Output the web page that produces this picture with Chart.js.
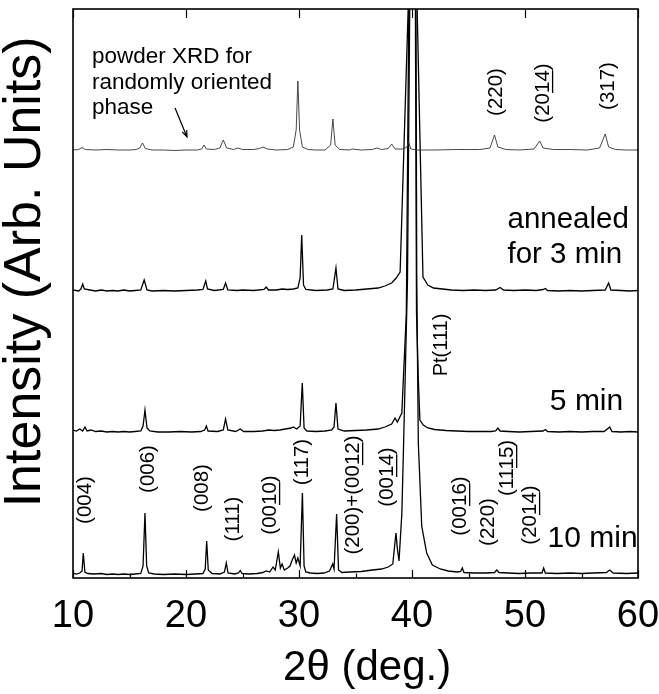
<!DOCTYPE html>
<html>
<head>
<meta charset="utf-8">
<script src="https://cdn.jsdelivr.net/npm/chart.js@4/dist/chart.umd.min.js"></script>
<style>
  body { margin: 0; background: #fff; }
  canvas { display: block; }
</style>
</head>
<body>
<canvas id="xrdChart" width="659" height="694"></canvas>
<script>
// 2theta (deg.) tick labels
var xTicks = [10, 20, 30, 40, 50, 60];

// each trace: [2theta, intensity] (intensity incl. vertical offset)
var powderXRD = [
  [10,428],[10.5,428.5],[10.8,430.5],[11.1,428.5],[12,428],[13,428.5],[14,428],[15,428],[15.6,428.5],[15.9,430],[16.15,435],[16.4,429.5],
  [17,428],[18,428],[19,427.5],[20,428],[21,428],[21.4,429],[21.6,433],[21.8,429],[22.5,428.5],[23.0,430],[23.3,438],[23.6,430],
  [24.2,428.5],[24.6,430],[25,428.5],[26,428.5],[26.5,429.5],[26.8,431],[27.2,429],[28,428],[29,428.5],[29.5,431],[29.75,448],
  [29.9,497],[30.05,448],[30.3,431],[30.8,428.5],[31.5,428],[32.3,428],[32.8,433],[33.0,459],[33.2,433],[33.6,428.5],[34.5,428],
  [34.7,429],[35.5,428],[36.5,428.5],[36.9,430],[37.3,428.5],[37.9,429.5],[38.2,434],[38.5,429],[39.2,429],[39.55,431],[39.7,436],
  [39.9,429],[40.5,428],[42,428],[44,428.5],[46,428.5],[46.9,430],[47.3,443],[47.6,431],[48.3,428.5],[49.5,428],[50.8,429],
  [51.3,437],[51.6,430],[52.5,428.5],[54,428.5],[55.5,428],[56.6,430],[57.1,444],[57.4,431],[58,428.5],[59,428],[60,428]
];

var annealed3min = [
  [10,288],[10.5,287],[10.7,289],[10.86,294],[11.0,289],[11.5,288],[12,287],[12.5,288],[13,287],[13.5,287.5],[14,287],[14.5,288],
  [15,287],[15.5,287.5],[16.0,288],[16.3,298],[16.55,288],[17,287],[18,287.5],[19,287],[20,287.5],[21,288],[21.5,288.5],[21.75,297],
  [21.9,289],[22.5,287.5],[23.3,288.5],[23.5,295],[23.7,288],[24.5,287.5],[25,288],[26,287.5],[26.9,288.5],[27.1,291],[27.3,288],
  [28,288],[28.5,289],[29,288.5],[29.5,289],[29.9,290],[30.1,300],[30.24,343],[30.4,293],[30.6,288.5],[31.5,287.5],[32.5,288],
  [33.0,289],[33.27,310],[33.45,289],[34,287.5],[35,288],[36,289],[37,290],[37.6,292],[38.2,295],[38.6,300],[38.95,306],
  [39.67,572],[40.05,700],[40.45,572],[40.97,301],[41.4,293],[41.9,290],[42.7,289],[43.5,288],[44.5,287.5],[45.5,288],
  [46.5,287.5],[47.4,288],[47.8,290.5],[48.1,288],[49,287.5],[50,288],[51,287.5],[51.6,288.5],[51.8,289.5],[52,287.5],[53,287],
  [54,287.5],[55,287],[56,287.5],[57.1,288],[57.4,295],[57.6,288],[58.5,287.5],[59.3,287],[60,287.5]
];

var annealed5min = [
  [10,148],[10.3,147],[10.6,149],[10.85,147],[11.06,151],[11.25,147],[11.6,148],[12,146.5],[12.5,147],[13,146],[13.5,146.5],[14,146],
  [14.5,146.5],[15,146],[15.5,146.5],[16.0,147],[16.2,152],[16.37,168],[16.55,150],[16.8,147],[17.5,146],[18.5,146],[19.5,146.5],
  [20.5,146],[21.3,146.5],[21.65,148],[21.8,152],[21.95,147],[22.8,146.5],[23.3,148],[23.5,159],[23.7,148],[24.4,146.5],[24.8,149],
  [25.1,146.5],[26,146.5],[26.8,147],[27.3,148],[27.8,147.5],[28.3,148],[28.8,149],[29.3,150],[29.5,151],[29.8,149],[30.1,152],
  [30.29,195],[30.45,150],[30.7,147],[31.5,146.5],[32.3,147],[32.9,148],[33.1,151],[33.27,175],[33.45,149],[34,147],[35,147.5],
  [36,148],[37,149],[37.6,151],[38.2,154],[38.5,160],[38.7,156],[39.1,165],[39.5,265],[39.72,572],[40.05,700],[40.3,572],
  [40.4,265],[40.56,198],[40.7,158],[41.0,153],[41.4,150],[42,148.5],[43,147.5],[44,147],[45,146.5],[46,146.5],[47,146.5],
  [47.4,147],[47.6,150],[47.8,147],[48.5,146.5],[49.5,146],[50.5,146.5],[51.6,147],[51.8,148.5],[52.0,146.5],[53,146],[54,146.5],
  [55,146],[56,146.5],[57,146.5],[57.5,151],[57.7,146.5],[58.5,146],[59.3,146.5],[60,146]
];

var annealed10min = [
  [10,5],[10.3,4],[10.6,5],[10.8,7],[10.91,25],[11.05,6],[11.3,4.5],[11.8,4],[12.5,4.5],[13,3.5],[13.5,4],[14,3.5],[14.5,4],[15,3.5],
  [15.5,4],[16.0,4.5],[16.2,12],[16.37,65],[16.52,12],[16.7,5],[17.2,4],[18,3.5],[19,4],[20,3.5],[20.8,4],[21.5,4.5],[21.7,9],
  [21.83,37],[21.97,8],[22.3,4.5],[23.0,4],[23.4,6],[23.57,15],[23.72,5],[24.3,4],[24.65,5],[24.8,7.5],[24.95,4.5],[25.5,4],
  [26.3,4.5],[26.8,5.5],[27.1,7],[27.4,6],[27.7,11],[27.9,8],[28.17,26],[28.35,10],[28.5,14],[28.7,8],[29.0,10],[29.2,12],[29.4,18],
  [29.6,23],[29.75,15],[29.9,20],[30.1,12],[30.3,85],[30.45,12],[30.6,6],[31,5],[31.6,4.5],[32.2,5],[32.7,7],[32.98,14],[33.1,9],
  [33.33,64],[33.5,8],[33.8,5.5],[34.5,6],[35.5,6.5],[36.5,8],[37.3,9],[37.9,11],[38.3,14],[38.58,45],[38.7,30],[38.85,17],
  [39.1,64],[39.25,131],[39.6,298],[39.8,572],[40.05,700],[40.35,572],[40.42,298],[40.56,135],[40.86,52],[41.3,25],[41.8,13],
  [42.5,9],[43.2,7],[44,6],[44.3,6.5],[44.45,10],[44.6,5.5],[45.5,5],[46.5,5],[47.3,5.5],[47.5,8],[47.7,5.5],[48.5,5],[49.5,4.5],
  [50.5,5],[51.5,5],[51.65,10],[51.8,5],[52.8,4.5],[54,5],[55,4.5],[56,5],[57.2,5.5],[57.5,8],[57.8,5],[59,4.5],[60,5]
];

var seriesNames = ['powder XRD', '3 min', '5 min', '10 min'];

// text placed in data coordinates (2theta, intensity); ul = underlined character range
var notes = [
  { t: 'powder XRD for', x: 11.68, y: 515, size: 22.5, align: 'left', base: 'alphabetic' },
  { t: 'randomly oriented', x: 11.68, y: 489.5, size: 22.5, align: 'left', base: 'alphabetic' },
  { t: 'phase', x: 11.68, y: 464, size: 22.5, align: 'left', base: 'alphabetic' },
  { t: 'annealed', x: 48.45, y: 350, size: 29.5, align: 'left', base: 'alphabetic' },
  { t: 'for 3 min', x: 48.45, y: 315, size: 29.5, align: 'left', base: 'alphabetic' },
  { t: '5 min', x: 52.2, y: 168, size: 30, align: 'left', base: 'alphabetic' },
  { t: '10 min', x: 52.0, y: 31, size: 30, align: 'left', base: 'alphabetic' },
  { t: '(220)', x: 47.43, y: 486, size: 20.5, rot: true },
  { t: '(2014)', x: 51.59, y: 485, size: 20.5, rot: true, ul: [3, 5] },
  { t: '(317)', x: 57.35, y: 492, size: 20.5, rot: true },
  { t: 'Pt(111)', x: 42.65, y: 233, size: 20, rot: true },
  { t: '(004)', x: 11.06, y: 78, size: 20.5, rot: true },
  { t: '(006)', x: 16.64, y: 109, size: 20.5, rot: true },
  { t: '(008)', x: 21.42, y: 90, size: 20.5, rot: true },
  { t: '(111)', x: 24.16, y: 59, size: 20.5, rot: true },
  { t: '(0010)', x: 27.43, y: 73, size: 20.5, rot: true, ul: [3, 5] },
  { t: '(117)', x: 30.27, y: 116, size: 20.5, rot: true },
  { t: '(200)+(0012)', x: 34.78, y: 83, size: 20.5, rot: true, ul: [9, 11] },
  { t: '(0014)', x: 37.79, y: 101, size: 20.5, rot: true, ul: [3, 5] },
  { t: '(0016)', x: 44.25, y: 72, size: 20.5, rot: true, ul: [3, 5] },
  { t: '(220)', x: 46.73, y: 56, size: 20.5, rot: true },
  { t: '(1115)', x: 48.41, y: 110, size: 20.5, rot: true, ul: [3, 5] },
  { t: '(2014)', x: 50.44, y: 63, size: 20.5, rot: true, ul: [3, 5] }
];

var fontFamily = "'Liberation Sans', Arial, sans-serif";

var decorPlugin = {
  id: 'decor',
  afterDraw: function (chart) {
    var ctx = chart.ctx;
    var a = chart.chartArea;
    var xs = chart.scales.x;
    var ys = chart.scales.y;
    ctx.save();
    ctx.strokeStyle = '#000';
    ctx.lineWidth = 1.6;
    ctx.strokeRect(a.left, a.top, a.right - a.left, a.bottom - a.top);

    // inward ticks: major+minor at bottom, major at top
    ctx.lineWidth = 1.2;
    ctx.beginPath();
    for (var v = 10; v <= 60; v += 5) {
      var px = Math.round(xs.getPixelForValue(v)) + 0.5;
      var major = v % 10 === 0;
      ctx.moveTo(px, a.bottom);
      ctx.lineTo(px, a.bottom - (major ? 8 : 4.5));
      if (major) {
        ctx.moveTo(px, a.top);
        ctx.lineTo(px, a.top + 9);
      }
    }
    ctx.stroke();

    // arrow to the powder pattern
    var x1 = xs.getPixelForValue(19.03), y1 = ys.getPixelForValue(470);
    var x2 = xs.getPixelForValue(20.09), y2 = ys.getPixelForValue(441);
    var ang = Math.atan2(y2 - y1, x2 - x1);
    ctx.lineWidth = 1.2;
    ctx.beginPath();
    ctx.moveTo(x1, y1);
    ctx.lineTo(x2, y2);
    ctx.moveTo(x2 - 7 * Math.cos(ang - 0.35), y2 - 7 * Math.sin(ang - 0.35));
    ctx.lineTo(x2, y2);
    ctx.lineTo(x2 - 7 * Math.cos(ang + 0.35), y2 - 7 * Math.sin(ang + 0.35));
    ctx.stroke();

    // labels
    ctx.fillStyle = '#000';
    notes.forEach(function (n) {
      var px = xs.getPixelForValue(n.x);
      var py = ys.getPixelForValue(n.y);
      ctx.font = n.size + 'px ' + fontFamily;
      ctx.save();
      ctx.translate(px, py);
      if (n.rot) {
        ctx.rotate(-Math.PI / 2);
        ctx.textAlign = 'center';
        ctx.textBaseline = 'middle';
      } else {
        ctx.textAlign = n.align;
        ctx.textBaseline = n.base;
      }
      ctx.fillText(n.t, 0, 0);
      if (n.ul) {
        var w = ctx.measureText(n.t).width;
        var x0 = -w / 2 + ctx.measureText(n.t.slice(0, n.ul[0])).width;
        var segW = ctx.measureText(n.t.slice(n.ul[0], n.ul[1])).width;
        ctx.lineWidth = 1.3;
        ctx.beginPath();
        ctx.moveTo(x0, n.size * 0.47);
        ctx.lineTo(x0 + segW, n.size * 0.47);
        ctx.stroke();
      }
      ctx.restore();
    });
    ctx.restore();
  }
};

function toPoints(arr) {
  return arr.map(function (p) { return { x: p[0], y: p[1] }; });
}

var traces = [powderXRD, annealed3min, annealed5min, annealed10min];

var ctx = document.getElementById('xrdChart').getContext('2d');
var xrdChart = new Chart(ctx, {
  type: 'line',
  data: {
    datasets: traces.map(function (arr, i) {
      return {
        label: seriesNames[i],
        data: toPoints(arr),
        borderColor: i === 0 ? '#333' : '#000',
        borderWidth: i === 0 ? 0.9 : 1.3,
        pointRadius: 0,
        tension: 0,
        fill: false
      };
    })
  },
  options: {
    responsive: false,
    animation: false,
    devicePixelRatio: 1,
    layout: { padding: { top: 9, right: 0, left: 0, bottom: 0 } },
    plugins: {
      legend: { display: false },
      tooltip: { enabled: false }
    },
    scales: {
      x: {
        type: 'linear',
        min: 10,
        max: 60,
        afterBuildTicks: function (scale) {
          scale.ticks = xTicks.map(function (v) { return { value: v }; });
        },
        grid: { display: false },
        border: { display: false },
        ticks: {
          color: '#000',
          padding: 8,
          font: { size: 38, family: fontFamily }
        },
        title: {
          display: true,
          text: '  2θ (deg.)',
          color: '#000',
          padding: { top: 0, bottom: 0 },
          font: { size: 42, family: fontFamily }
        },
        afterFit: function (scale) {
          scale.height = 116;
          scale.paddingLeft = 0;
          scale.paddingRight = 21;
        }
      },
      y: {
        type: 'linear',
        min: 0,
        max: 569,
        grid: { display: false },
        border: { display: false },
        ticks: { display: false },
        title: {
          display: true,
          text: '   Intensity (Arb. Units)',
          color: '#000',
          padding: { top: 0, bottom: 0 },
          font: { size: 52, family: fontFamily, lineHeight: 0.98 }
        },
        afterFit: function (scale) { scale.width = 73; }
      }
    }
  },
  plugins: [decorPlugin]
});
</script>
</body>
</html>
